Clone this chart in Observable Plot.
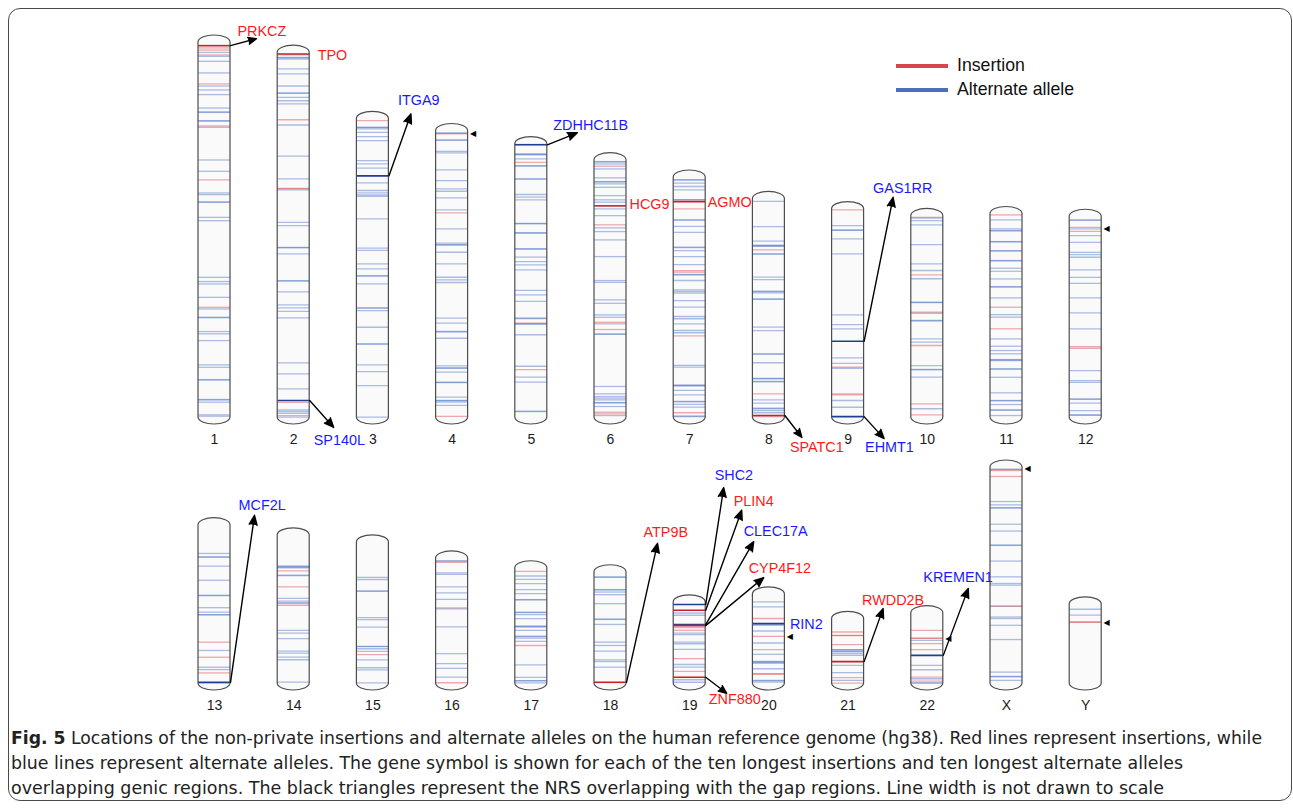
<!DOCTYPE html>
<html>
<head>
<meta charset="utf-8">
<script src="https://cdn.jsdelivr.net/npm/d3@7"></script>
<script src="https://cdn.jsdelivr.net/npm/@observablehq/plot@0.6"></script>
<style>
  body { margin: 0; background: #fff; font-family: "Liberation Sans", Arial, sans-serif; }
  #wrap { position: relative; width: 1293px; height: 808px; overflow: hidden; background: #fff; }
  #frame { position: absolute; left: 8px; top: 8px; width: 1284px; height: 793px; border: 1px solid #4a4a4a; border-radius: 12px; box-sizing: border-box; }
  #rowTop, #rowBottom { position: absolute; left: 0; }
  #rowTop { top: 0; }
  #rowBottom { top: 450px; }
  .legline { position: absolute; left: 896px; width: 52px; height: 4px; }
  .legtext { position: absolute; left: 957px; font-size: 17.7px; line-height: 20px; color: #111; white-space: nowrap; }
  .cap { position: absolute; left: 11px; font-size: 18px; line-height: 25px; white-space: nowrap; color: #222;
         font-family: "Liberation Sans Narrow", "DejaVu Sans Condensed", "Roboto Condensed", "Liberation Sans", Arial, sans-serif;
         transform-origin: left center; }
  .cap b { font-weight: bold; }
</style>
</head>
<body>
<div id="wrap">
  <div id="frame"></div>
  <div id="rowTop"></div>
  <div id="rowBottom"></div>
  <div class="legline" style="top:64px;background:#d64550"></div>
  <div class="legtext" style="top:55px">Insertion</div>
  <div class="legline" style="top:88px;background:#4a6fbf"></div>
  <div class="legtext" style="top:79px">Alternate allele</div>
  <div class="cap" id="cap1" style="top:725px"><b>Fig. 5</b> Locations of the non-private insertions and alternate alleles on the human reference genome (hg38). Red lines represent insertions, while</div>
  <div class="cap" id="cap2" style="top:750px">blue lines represent alternate alleles. The gene symbol is shown for each of the ten longest insertions and ten longest alternate alleles</div>
  <div class="cap" id="cap3" style="top:775px">overlapping genic regions. The black triangles represent the NRS overlapping with the gap regions. Line width is not drawn to scale</div>
</div>
<script>
// ---------- data ----------
const chromosomes = ["1","2","3","4","5","6","7","8","9","10","11","12",
                     "13","14","15","16","17","18","19","20","21","22","X","Y"];
// hg38 chromosome lengths (Mb)
const lengthsMb = [248.96, 242.19, 198.30, 190.21, 181.54, 170.81, 159.35, 145.14, 138.39, 133.80, 135.09, 133.28,
                   114.36, 107.04, 101.99, 90.34, 83.26, 80.37, 58.62, 64.44, 46.71, 50.82, 156.04, 57.23];
// insertion positions (Mb from p-ter), one list per chromosome
const insertionsMb = [
  [3.6, 5.0, 8.3, 27.5, 55.4, 91.2, 175.8],
  [44.5, 90.1, 90.4, 232.1, 240.9],
  [1.2],
  [1.9, 54.3, 189.5],
  [0.3, 12.1, 118.9, 149.8],
  [4.0, 42.9, 107.6, 112.4, 167.3, 168.4],
  [20.8, 61.8, 62.9, 105.1, 156.2],
  [33.8, 129.4, 144.5],
  [0.6, 105.0, 122.7, 123.4],
  [0.9, 39.1, 63.9, 86.0, 124.7, 132.0],
  [0.6, 61.9, 76.2],
  [7.0, 9.7, 86.2, 87.3],
  [84.5, 95.4, 106.7, 114.1],
  [25.7, 37.2, 50.5],
  [81.2],
  [2.8, 35.7, 89.8],
  [2.2, 55.8],
  [],
  [18.3, 20.2, 40.7, 49.9],
  [17.5, 30.4, 40.0, 57.4, 57.6],
  [9.5, 11.9, 12.1, 18.6, 42.5, 46.4],
  [12.4, 18.0, 18.2, 22.0, 26.4, 46.2, 49.1],
  [2.2, 6.5, 100.2],
  [12.8, 13.0]
];
// alternate allele positions (Mb from p-ter), one list per chromosome
const alternatesMb = [
  [6.6, 9.2, 12.5, 20.2, 28.9, 31.5, 34.6, 43.5, 46.1, 46.4, 51.9, 52.2, 56.3, 78.0, 85.5, 99.9, 101.0, 105.8, 106.1, 116.1, 118.3, 155.9, 158.7, 160.3, 169.2, 176.9, 182.4, 182.7, 191.9, 193.4, 197.9, 214.0, 215.6, 223.8, 224.1, 237.0, 237.3, 238.8, 247.2, 248.1],
  [1.5, 3.1, 3.4, 4.2, 10.8, 14.1, 22.1, 26.7, 27.0, 29.7, 31.9, 34.0, 48.0, 68.6, 83.8, 91.1, 112.6, 114.8, 129.2, 129.5, 133.6, 151.3, 151.6, 158.8, 167.4, 169.4, 171.7, 176.1, 205.9, 213.2, 223.2, 237.1, 238.2, 239.4, 242.0],
  [5.6, 5.9, 6.7, 9.0, 11.8, 14.5, 27.7, 29.9, 32.8, 42.5, 47.6, 49.2, 50.5, 51.4, 66.4, 85.9, 87.4, 96.3, 99.6, 104.1, 104.4, 109.6, 125.5, 125.7, 127.3, 138.4, 149.4, 149.6, 163.3, 167.8, 177.1, 198.1],
  [1.3, 1.6, 5.9, 6.2, 13.5, 14.5, 25.8, 32.9, 38.4, 40.0, 44.4, 52.4, 65.0, 74.5, 75.4, 75.7, 80.5, 88.2, 97.1, 98.8, 100.6, 124.3, 127.6, 133.1, 133.3, 137.6, 155.9, 157.2, 157.5, 160.1, 166.8, 167.0, 176.7, 178.9, 179.1, 180.0, 182.2],
  [6.5, 6.8, 7.2, 9.8, 14.3, 14.6, 23.1, 23.3, 33.5, 35.3, 37.0, 52.6, 52.9, 58.9, 59.1, 69.5, 69.7, 75.1, 78.0, 80.2, 83.5, 97.2, 100.1, 104.5, 115.6, 115.8, 119.3, 119.5, 126.6, 147.5, 154.8, 158.1, 177.3, 177.6],
  [0.9, 1.2, 2.5, 5.8, 11.7, 14.2, 14.4, 15.7, 18.0, 23.5, 26.3, 27.9, 32.3, 36.8, 44.9, 47.4, 52.9, 64.0, 79.9, 81.1, 92.7, 95.0, 102.7, 104.3, 108.6, 115.3, 115.6, 150.2, 155.1, 156.9, 158.0, 159.1, 160.9, 161.1, 163.5, 169.5],
  [1.4, 1.7, 3.8, 6.0, 8.2, 14.7, 14.9, 28.1, 28.3, 32.4, 36.4, 46.3, 46.6, 48.5, 52.5, 57.8, 64.4, 64.7, 68.4, 74.6, 75.7, 76.8, 81.7, 86.1, 92.3, 93.8, 97.2, 101.6, 103.1, 124.8, 125.9, 137.8, 138.1, 138.4, 141.4, 144.3, 148.7, 149.0, 150.7, 152.5, 158.4, 158.7],
  [1.6, 18.4, 28.1, 30.8, 31.1, 31.5, 36.5, 36.7, 52.0, 53.6, 61.3, 61.6, 62.4, 66.4, 66.7, 85.2, 87.4, 102.9, 103.1, 108.8, 119.1, 119.4, 121.2, 121.5, 133.4, 135.6, 138.9, 139.2, 140.5, 142.0],
  [11.0, 13.9, 14.1, 19.8, 29.8, 70.3, 76.7, 79.6, 98.8, 102.4, 105.7, 127.1, 131.6],
  [1.5, 3.1, 5.9, 19.0, 31.8, 36.2, 41.7, 57.3, 57.6, 64.6, 69.4, 69.7, 81.6, 83.8, 99.3, 101.9, 102.2, 107.0, 128.0],
  [3.9, 9.9, 11.0, 11.2, 18.3, 18.5, 24.3, 24.6, 30.9, 31.1, 36.0, 38.0, 43.1, 48.2, 48.5, 55.7, 66.8, 68.5, 82.9, 87.8, 90.6, 92.8, 96.6, 96.9, 97.3, 102.8, 103.0, 108.4, 118.7, 123.8, 124.0, 126.5, 130.0, 130.3, 133.8],
  [2.1, 2.4, 8.1, 12.5, 17.0, 23.6, 25.2, 26.9, 35.3, 40.2, 44.2, 53.9, 63.8, 74.5, 102.1, 108.8, 109.9, 120.9, 121.2, 123.8, 128.7, 131.5, 131.8],
  [20.4, 22.9, 23.1, 29.6, 39.8, 50.6, 50.9, 59.6, 62.8, 64.6, 64.8, 90.5, 102.6, 104.3],
  [22.2, 22.5, 23.2, 23.5, 28.8, 29.1, 45.6, 47.6, 48.8, 49.0, 68.6, 70.6, 74.6, 83.6, 85.1, 88.0, 89.9, 106.1],
  [25.4, 26.9, 35.1, 35.4, 54.4, 55.9, 61.2, 75.2, 75.4, 76.9, 78.8, 84.9, 90.6, 92.1, 101.5],
  [1.7, 2.0, 10.4, 11.5, 20.5, 24.9, 29.6, 36.4, 49.5, 68.8, 76.0, 79.4, 85.7],
  [5.6, 8.0, 11.1, 15.4, 18.3, 22.7, 22.9, 31.7, 32.0, 33.5, 36.4, 41.8, 42.0, 42.5, 44.9, 49.1, 49.4, 50.5, 52.9, 69.8, 78.8, 81.2, 81.4, 82.8],
  [3.4, 3.6, 12.5, 12.8, 14.3, 16.2, 22.7, 33.8, 34.1, 37.7, 50.5, 52.9, 57.0, 63.3, 64.5, 68.6],
  [7.7, 9.3, 22.2, 23.3, 28.7, 29.9, 34.0, 44.9, 46.8, 55.9, 57.7],
  [5.5, 9.1, 21.6, 22.4, 26.5, 35.2, 43.4, 48.5, 48.8, 49.4, 49.7, 53.8, 62.2, 62.5, 63.4],
  [22.2, 22.5, 23.5, 23.8, 25.1, 26.4, 33.6, 38.9, 44.5],
  [19.6, 37.7, 40.9, 47.4, 50.3, 50.5],
  [1.2, 1.5, 24.6, 27.0, 29.0, 29.3, 41.0, 45.9, 56.0, 56.3, 67.6, 79.0, 83.8, 85.0, 100.2, 108.0, 109.1, 114.0, 124.3, 147.8, 150.9, 151.2, 153.8],
  [3.6, 7.9]
];
// labelled genes (ten longest insertions + ten longest alternate alleles)
const geneNames = ["PRKCZ","TPO","SP140L","ITGA9","ZDHHC11B","HCG9","AGMO","SPATC1","GAS1RR","EHMT1",
                   "MCF2L","ATP9B","SHC2","PLIN4","CLEC17A","CYP4F12","ZNF880","RIN2","RWDD2B","KREMEN1"];
const geneChr = ["1","2","2","3","5","6","7","8","9","9","13","18","19","19","19","19","19","20","21","22"];
const genePosMb = [2.1, 0.9, 230.9, 37.9, 0.5, 30.3, 16.0, 143.8, 87.8, 137.8,
                   113.5, 79.5, 1.6, 5.7, 16.1, 16.8, 54.1, 21.2, 30.9, 30.5];
const geneType = ["ins","ins","alt","alt","alt","ins","ins","ins","alt","alt",
                  "alt","ins","alt","ins","alt","ins","ins","alt","ins","alt"];
// NRS overlapping gap regions (black triangles)
const gapChr = ["4","12","20","22","X","Y"];
const gapPosMb = [1.3, 7.7, 30.2, 18.0, 0.5, 12.8];

// ---------- annotation layout (pixel offsets from the line's right end) ----------
const arrowEndPx = [[26,-7], null, [24,27], [22,-62], [30,-12], null, null, [17,22], [29,-144], [20,22],
                    [24,-167], [31,-139], [18,-117], [36,-100], [48,-83], [58,-48], [21,16], null, [19,-53], [25,-67]];
const labelPx = [[7,-14.5], [8,1], [4,39.5], [9,-76], [6,-19], [3,-1], [2,0.7], [5,32], [9,-153], [1,31],
                 [8,-177], [17,-150], [9,-129], [28,-109], [38,-93], [43,-57], [3,22], [5,1], [-2,-61], [-20,-78]];

// ---------- drawing ----------
const COL_PX = 79.2, HALF_PX = 16, X0 = 214;
const RED = "#ff1a1a", BLUE = "#1a1aff";

function buildRow(r, height, marginTop, marginBottom) {
  const names = chromosomes.slice(r * 12, r * 12 + 12);
  const idx = n => chromosomes.indexOf(n);
  const col = n => idx(n) - r * 12;
  const maxLen = d3.max(names, n => lengthsMb[idx(n)]);
  const kPx = (height - marginTop - marginBottom) / maxLen;
  const hw = HALF_PX / COL_PX;

  const chroms = names.map(n => ({name: n, i: col(n), L: lengthsMb[idx(n)]}));
  const ins = [], alt = [];
  for (const n of names) {
    const j = idx(n), L = lengthsMb[j];
    insertionsMb[j].forEach(p => ins.push({i: col(n), v: L - p}));
    alternatesMb[j].forEach(p => alt.push({i: col(n), v: L - p}));
  }
  const genes = [];
  geneNames.forEach((g, j) => {
    if (!names.includes(geneChr[j])) return;
    const L = lengthsMb[idx(geneChr[j])];
    const i = col(geneChr[j]);
    genes.push({name: g, type: geneType[j], i, v: L - genePosMb[j], xs: i + hw,
                arrow: arrowEndPx[j], lab: labelPx[j]});
  });
  const gaps = [];
  gapChr.forEach((c, j) => {
    if (!names.includes(c)) return;
    gaps.push({i: col(c), v: lengthsMb[idx(c)] - gapPosMb[j]});
  });
  const arrows = genes.filter(d => d.arrow);
  const cap = 7;

  return Plot.plot({
    width: 1293, height, marginTop, marginBottom, marginLeft: 0, marginRight: 0,
    style: {background: "transparent", overflow: "visible", fontFamily: "'Liberation Sans', Arial, sans-serif"},
    x: {domain: [-0.5, 11.5], range: [X0 - COL_PX / 2, X0 + 11.5 * COL_PX], axis: null},
    y: {domain: [0, maxLen], axis: null},
    marks: [
      Plot.rect(chroms, {x1: d => d.i - hw, x2: d => d.i + hw, y1: 0, y2: "L",
        insetTop: -cap, insetBottom: -cap, rx: HALF_PX, ry: cap, fill: "#fafafa"}),
      Plot.ruleY(alt, {y: "v", x1: d => d.i - hw, x2: d => d.i + hw, stroke: "#4a72c4", strokeOpacity: 0.45, strokeWidth: 1.3}),
      Plot.ruleY(ins, {y: "v", x1: d => d.i - hw, x2: d => d.i + hw, stroke: "#dc4550", strokeOpacity: 0.45, strokeWidth: 1.3}),
      Plot.ruleY(genes.filter(d => d.type === "alt"), {y: "v", x1: d => d.i - hw, x2: d => d.i + hw, stroke: "#1f3f95", strokeWidth: 1.6}),
      Plot.ruleY(genes.filter(d => d.type === "ins"), {y: "v", x1: d => d.i - hw, x2: d => d.i + hw, stroke: "#cc1f25", strokeWidth: 1.6}),
      Plot.rect(chroms, {x1: d => d.i - hw, x2: d => d.i + hw, y1: 0, y2: "L",
        insetTop: -cap, insetBottom: -cap, rx: HALF_PX, ry: cap, fill: "none", stroke: "#4d4d4d", strokeWidth: 1.2}),
      Plot.arrow(arrows, {x1: "xs", y1: "v",
        x2: d => d.xs + d.arrow[0] / COL_PX, y2: d => d.v - d.arrow[1] / kPx,
        stroke: "#000", fill: "#000", strokeWidth: 1.4, headLength: 11, headAngle: 45}),
      Plot.text(genes.filter(d => d.type === "ins"), {x: d => d.xs + d.lab[0] / COL_PX, y: d => d.v - d.lab[1] / kPx,
        text: "name", fill: RED, textAnchor: "start", fontSize: 14.4}),
      Plot.text(genes.filter(d => d.type === "alt"), {x: d => d.xs + d.lab[0] / COL_PX, y: d => d.v - d.lab[1] / kPx,
        text: "name", fill: BLUE, textAnchor: "start", fontSize: 14.4}),
      Plot.text(gaps, {x: d => d.i + hw, y: "v", text: () => "◀", dx: 5, fontSize: 8, fill: "#000",
        fontFamily: "DejaVu Sans"}),
      Plot.text(chroms, {x: "i", y: 0, text: "name", dy: 22, fontSize: 14, fill: "#1a1a1a"})
    ]
  });
}

document.getElementById("rowTop").appendChild(buildRow(0, 450, 42, 33));
document.getElementById("rowBottom").appendChild(buildRow(1, 270, 17, 37));

// fit caption lines to the reference line widths
const capTargets = {cap1: 1251, cap2: 1172, cap3: 1153};
for (const [id, w] of Object.entries(capTargets)) {
  const el = document.getElementById(id);
  const actual = el.getBoundingClientRect().width;
  if (actual > 0) el.style.transform = `scaleX(${w / actual})`;
}
</script>
</body>
</html>
